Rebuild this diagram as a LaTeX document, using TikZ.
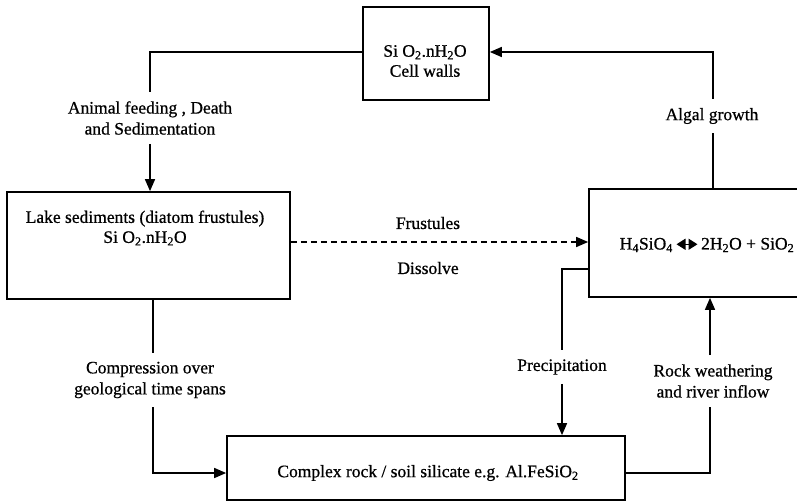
\documentclass[tikz,border=0pt]{standalone}
\usepackage{fontspec}
\setmainfont{Liberation Serif}[FakeBold=0.7]
\usetikzlibrary{arrows.meta}
\newcommand{\dblarr}{\tikz[baseline=-0.65ex]\draw[line width=1.4pt,{Triangle[length=9pt,width=11pt]}-{Triangle[length=9pt,width=11pt]}] (0,0)--(21pt,0);}
\begin{document}
\begin{tikzpicture}[x=1pt,y=-1pt,
  boxs/.style={draw, line width=1.7pt, inner sep=0pt},
  txt/.style={align=center, inner sep=0pt, font=\fontsize{17.5}{20}\selectfont},
  lbl/.style={align=center, inner xsep=0pt, inner ysep=9pt, font=\fontsize{17.5}{21}\selectfont},
  conn/.style={line width=1.5pt},
  tip/.style={-{Triangle[length=12pt,width=10pt]}}]
\useasboundingbox (0,0) rectangle (797,502);

% boxes
\node[boxs, minimum width=126pt, minimum height=93pt] (cell) at (426,53.5) {};
\node[boxs, minimum width=283pt, minimum height=107pt] (lake) at (148.5,245.5) {};
\node[boxs, minimum width=224pt, minimum height=108pt] (eq) at (701,243) {};
\node[boxs, minimum width=398pt, minimum height=64pt] (rock) at (426,468) {};

% box texts
\node[txt] (celltxt) at (425,61) {Si O\textsubscript{2}.nH\textsubscript{2}O\\Cell walls};
\node[txt] (laketxt) at (145,228) {Lake sediments (diatom frustules)\\Si O\textsubscript{2}.nH\textsubscript{2}O};
\node[txt] (eqtxt) at (707,245) {H\textsubscript{4}SiO\textsubscript{4}\,\dblarr\,2H\textsubscript{2}O + SiO\textsubscript{2}};
\node[txt] (rocktxt) at (428,473) {Complex rock / soil  silicate  e.g. Al.FeSiO\textsubscript{2}};

% labels
\node[lbl] (animal) at (150,118) {Animal  feeding , Death\\and Sedimentation};
\node[lbl] (algal) at (712,116) {Algal growth};
\node[lbl] (frus) at (428,223) {Frustules};
\node[lbl] (diss) at (428,268) {Dissolve};
\node[lbl] (compr) at (150,380) {Compression over\\geological time spans};
\node[lbl] (precip) at (562,367) {Precipitation};
\node[lbl] (weath) at (713,381) {Rock weathering\\and river inflow};

% connectors
\draw[conn] ([yshift=1.5pt]cell.west) -| (animal.north);
\draw[conn,tip] (animal.south) -- (animal.south |- lake.north);

\draw[conn] (eq.north -| 713,0) -- (algal.south -| 713,0);
\draw[conn,tip] (algal.north -| 713,0) |- ([yshift=1.5pt]cell.east);

\draw[conn,dash pattern=on 6pt off 4pt,tip] ([yshift=3.5pt]lake.east) -- ([yshift=3.5pt]lake.east -| eq.west);

\draw[conn] (lake.south -| 153,0) -- (compr.north -| 153,0);
\draw[conn,tip] (compr.south -| 153,0) |- ([yshift=-5pt]rock.west);

\draw[conn] ([yshift=-26pt]eq.west) -| (precip.north);
\draw[conn,tip] (precip.south) -- (precip.south |- rock.north);

\draw[conn] ([yshift=-5pt]rock.east) -| (weath.south -| 710,0);
\draw[conn,tip] (weath.north -| 710,0) -- (eq.south -| 710,0);
\end{tikzpicture}
\end{document}
